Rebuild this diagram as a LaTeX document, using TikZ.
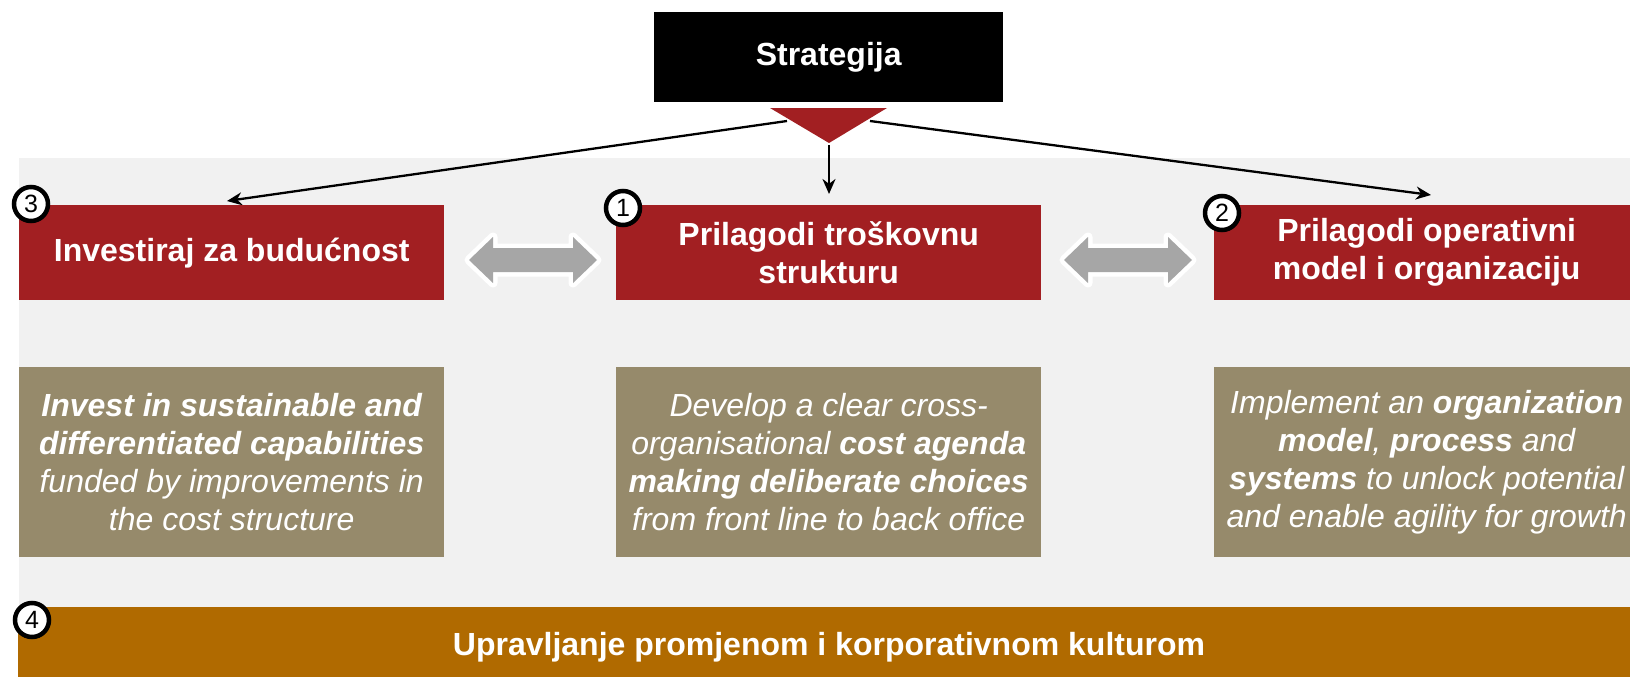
\documentclass[tikz,border=0pt]{standalone}
\usepackage{fontspec}
\setmainfont{Liberation Sans}
\usetikzlibrary{arrows.meta}
\definecolor{cred}{HTML}{A21F22}
\definecolor{colive}{HTML}{968A6B}
\definecolor{corange}{HTML}{B06A00}
\definecolor{cbg}{HTML}{F1F1F1}
\definecolor{cgrayarrow}{HTML}{A6A6A6}
\tikzset{
  redbox/.style={fill=cred, inner sep=0pt, minimum width=425pt, minimum height=95pt, anchor=north west, text=white, align=center, font=\fontsize{32}{38}\selectfont\bfseries},
  olivebox/.style={fill=colive, inner sep=0pt, minimum width=425pt, minimum height=190pt, anchor=north west, text=white, align=center, font=\fontsize{32}{38}\selectfont\itshape},
  numcirc/.style={circle, draw=black, line width=4.5pt, fill=white, minimum size=34pt, inner sep=0pt, font=\fontsize{25}{25}\selectfont},
  conn/.style={line width=2.3pt, -{Stealth[length=15pt,width=13pt]}},
  dblarrow/.style={fill=cgrayarrow, preaction={draw=white, line width=9pt, line join=round}}
}
\begin{document}
\begin{tikzpicture}[x=1pt,y=-1pt]
\useasboundingbox (0,0) rectangle (1630,677);
\clip (0,0) rectangle (1630,677);
% background
\fill[cbg] (19,158) rectangle (1700,700);
% strategy box
\node[fill=black, inner sep=0pt, minimum width=349pt, minimum height=90pt, anchor=north west, text=white, font=\fontsize{32}{38}\selectfont\bfseries] (strat) at (654,12) {Strategija};
% connectors
\coordinate (tl) at (787,121);
\coordinate (tr) at (870,121);
\coordinate (tc) at (829,145);
\coordinate (el) at (227,201);
\coordinate (er) at (1431,195);
\coordinate (ec) at (829,194);
\draw[conn] (tl) -- (el);
\draw[conn] (tr) -- (er);
\draw[conn] (tc) -- (ec);
\fill[cred] (770,108) -- (887,108) -- (829,143) -- cycle;
% red boxes
\node[redbox] (b3) at (19,205) {Investiraj za budućnost};
\node[redbox] (b1) at (616,205) {Prilagodi troškovnu\\strukturu};
\node[redbox] (b2) at (1214,205) {Prilagodi operativni\\model i organizaciju};
% double arrows
\foreach \cx in {533,1128}{
  \path[dblarrow] (\cx-64,260) -- (\cx-40,237) -- (\cx-40,248) -- (\cx+40,248) -- (\cx+40,237) -- (\cx+64,260) -- (\cx+40,283) -- (\cx+40,272) -- (\cx-40,272) -- (\cx-40,283) -- cycle;
}
% olive boxes
\node[olivebox] (o3) at (19,367) {\textbf{Invest in sustainable and}\\\textbf{differentiated capabilities}\\funded by improvements in\\the cost structure};
\node[olivebox] (o1) at (616,367) {Develop a clear cross-\\organisational \textbf{cost agenda}\\\textbf{making deliberate choices}\\from front line to back office};
\node[olivebox] (o2) at (1214,367) {Implement an \textbf{organization}\\\textbf{model}, \textbf{process} and\\\textbf{systems} to unlock potential\\and enable agility for growth};
% bottom bar
\fill[corange] (18,607) rectangle (1700,700);
\node[text=white, inner sep=0pt, font=\fontsize{32}{38}\selectfont\bfseries] (bar) at (829,647) {Upravljanje promjenom i korporativnom kulturom};
% numbers
\node[numcirc] (n3) at (31,204) {3};
\node[numcirc] (n1) at (623,208) {1};
\node[numcirc] (n2) at (1222,213) {2};
\node[numcirc] (n4) at (32,620) {4};
\end{tikzpicture}
\end{document}
